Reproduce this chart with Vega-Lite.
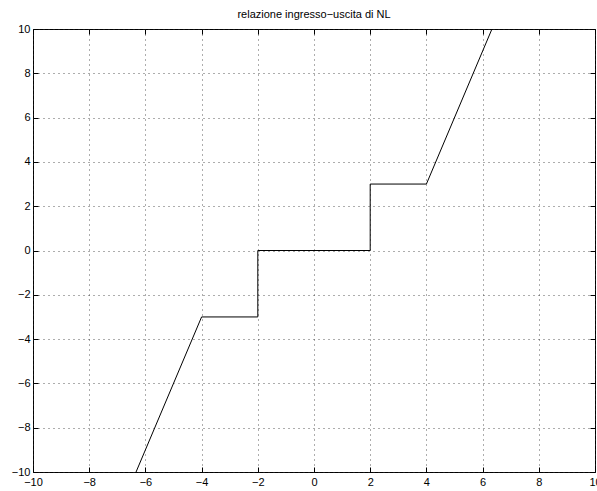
{
  "$schema": "https://vega.github.io/schema/vega-lite/v6.json",
  "autosize": "none",
  "width": 562,
  "height": 443,
  "padding": {"left": 33, "top": 29, "right": 2, "bottom": 19},
  "background": "white",
  "title": {"text": "relazione ingresso−uscita di NL", "font": "Liberation Sans", "fontSize": 11, "fontWeight": "normal", "color": "black", "offset": 3},
  "config": {
    "view": {"stroke": "black", "strokeWidth": 1},
    "axis": {
      "labelFont": "Liberation Sans", "labelFontSize": 11, "labelColor": "black",
      "domain": false, "tickColor": "black", "tickSize": -5, "tickWidth": 1,
      "grid": true, "gridColor": "#333", "gridDash": [1, 4], "gridWidth": 1, "gridOpacity": 0.8,
      "title": null
    }
  },
  "data": {"values": [
    {"x": -6.333, "y": -10},
    {"x": -4, "y": -3},
    {"x": -2, "y": -3},
    {"x": -2, "y": 0},
    {"x": 2, "y": 0},
    {"x": 2, "y": 3},
    {"x": 4, "y": 3},
    {"x": 6.333, "y": 10}
  ]},
  "layer": [
    {
      "mark": {"type": "line", "color": "black", "strokeWidth": 1, "clip": true},
      "encoding": {
        "x": {"field": "x", "type": "quantitative", "scale": {"domain": [-10, 10], "nice": false, "zero": false},
          "axis": {"orient": "bottom", "values": [-10, -8, -6, -4, -2, 0, 2, 4, 6, 8, 10], "labelPadding": 9, "labelFlush": false}},
        "y": {"field": "y", "type": "quantitative", "scale": {"domain": [-10, 10], "nice": false, "zero": false},
          "axis": {"orient": "left", "values": [-10, -8, -6, -4, -2, 0, 2, 4, 6, 8, 10], "labelPadding": 8, "labelFlush": false}},
        "order": {"value": 0}
      }
    },
    {
      "mark": {"type": "line", "opacity": 0},
      "encoding": {
        "x": {"field": "x", "type": "quantitative", "scale": {"domain": [-10, 10], "nice": false, "zero": false},
          "axis": {"orient": "top", "values": [-10, -8, -6, -4, -2, 0, 2, 4, 6, 8, 10], "labels": false, "grid": false}},
        "y": {"field": "y", "type": "quantitative", "scale": {"domain": [-10, 10], "nice": false, "zero": false},
          "axis": {"orient": "right", "values": [-10, -8, -6, -4, -2, 0, 2, 4, 6, 8, 10], "labels": false, "grid": false}}
      }
    }
  ],
  "resolve": {"axis": {"x": "independent", "y": "independent"}}
}
